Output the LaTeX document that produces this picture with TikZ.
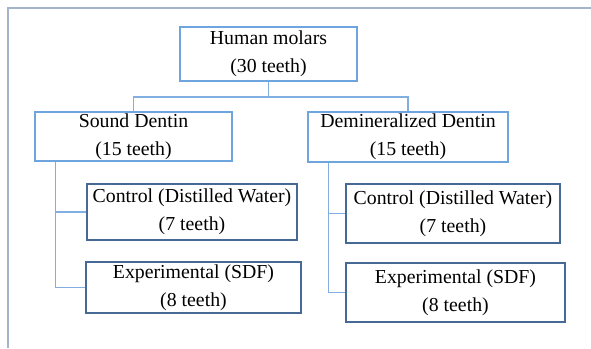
\documentclass[tikz,border=0pt]{standalone}
\usepackage{fontspec}
\setmainfont{Liberation Serif}
\usetikzlibrary{positioning}
\definecolor{lightblue}{RGB}{110,165,222}
\definecolor{darkblue}{RGB}{70,105,150}
\definecolor{linkblue}{RGB}{130,175,225}
\definecolor{framegray}{RGB}{165,180,205}

\begin{document}
\begin{tikzpicture}[x=1pt,y=-1pt]
        \tikzstyle{upper}=[rectangle, draw=lightblue, line width=1.4pt, fill=white, align=center, inner sep=0pt, font=\fontsize{19.8}{28}\selectfont]
        \tikzstyle{lower}=[upper, draw=darkblue]
        \tikzstyle{link}=[draw=linkblue, line width=1.6pt]
        \useasboundingbox (0,0) rectangle (591,348);
        \draw [framegray, line width=1.2pt] (8,348) -- (8,8) -- (591,8);
        % groups
        \node [upper, minimum width=177, minimum height=54] (top) at (268.5,54) {Human molars\\(30 teeth)};
        \node [upper, minimum width=197, minimum height=49] (sound) at (133.5,136.5) {Sound Dentin\\(15 teeth)};
        \node [upper, minimum width=200, minimum height=50] (dem) at (408,137) {Demineralized Dentin\\(15 teeth)};
        \node [lower, minimum width=210, minimum height=56] (ctrl1) at (192,212) {Control (Distilled Water)\\(7 teeth)};
        \node [lower, minimum width=215, minimum height=51] (exp1) at (193.5,287.5) {Experimental (SDF)\\(8 teeth)};
        \node [lower, minimum width=214, minimum height=59] (ctrl2) at (453,213.5) {Control (Distilled Water)\\(7 teeth)};
        \node [lower, minimum width=219, minimum height=59] (exp2) at (455.5,292.5) {Experimental (SDF)\\(8 teeth)};
        % links
        \draw [link] (top.south) -- ++(0,15) -| (sound.north);
        \draw [link] (top.south) -- ++(0,15) -| (dem.north);
        \draw [link] (sound.south west) ++(21,0) |- (ctrl1.west);
        \draw [link] (sound.south west) ++(21,0) |- (exp1.west);
        \draw [link] (dem.south west) ++(21,0) |- (ctrl2.west);
        \draw [link] (dem.south west) ++(21,0) |- (exp2.west);
\end{tikzpicture}
\end{document}
